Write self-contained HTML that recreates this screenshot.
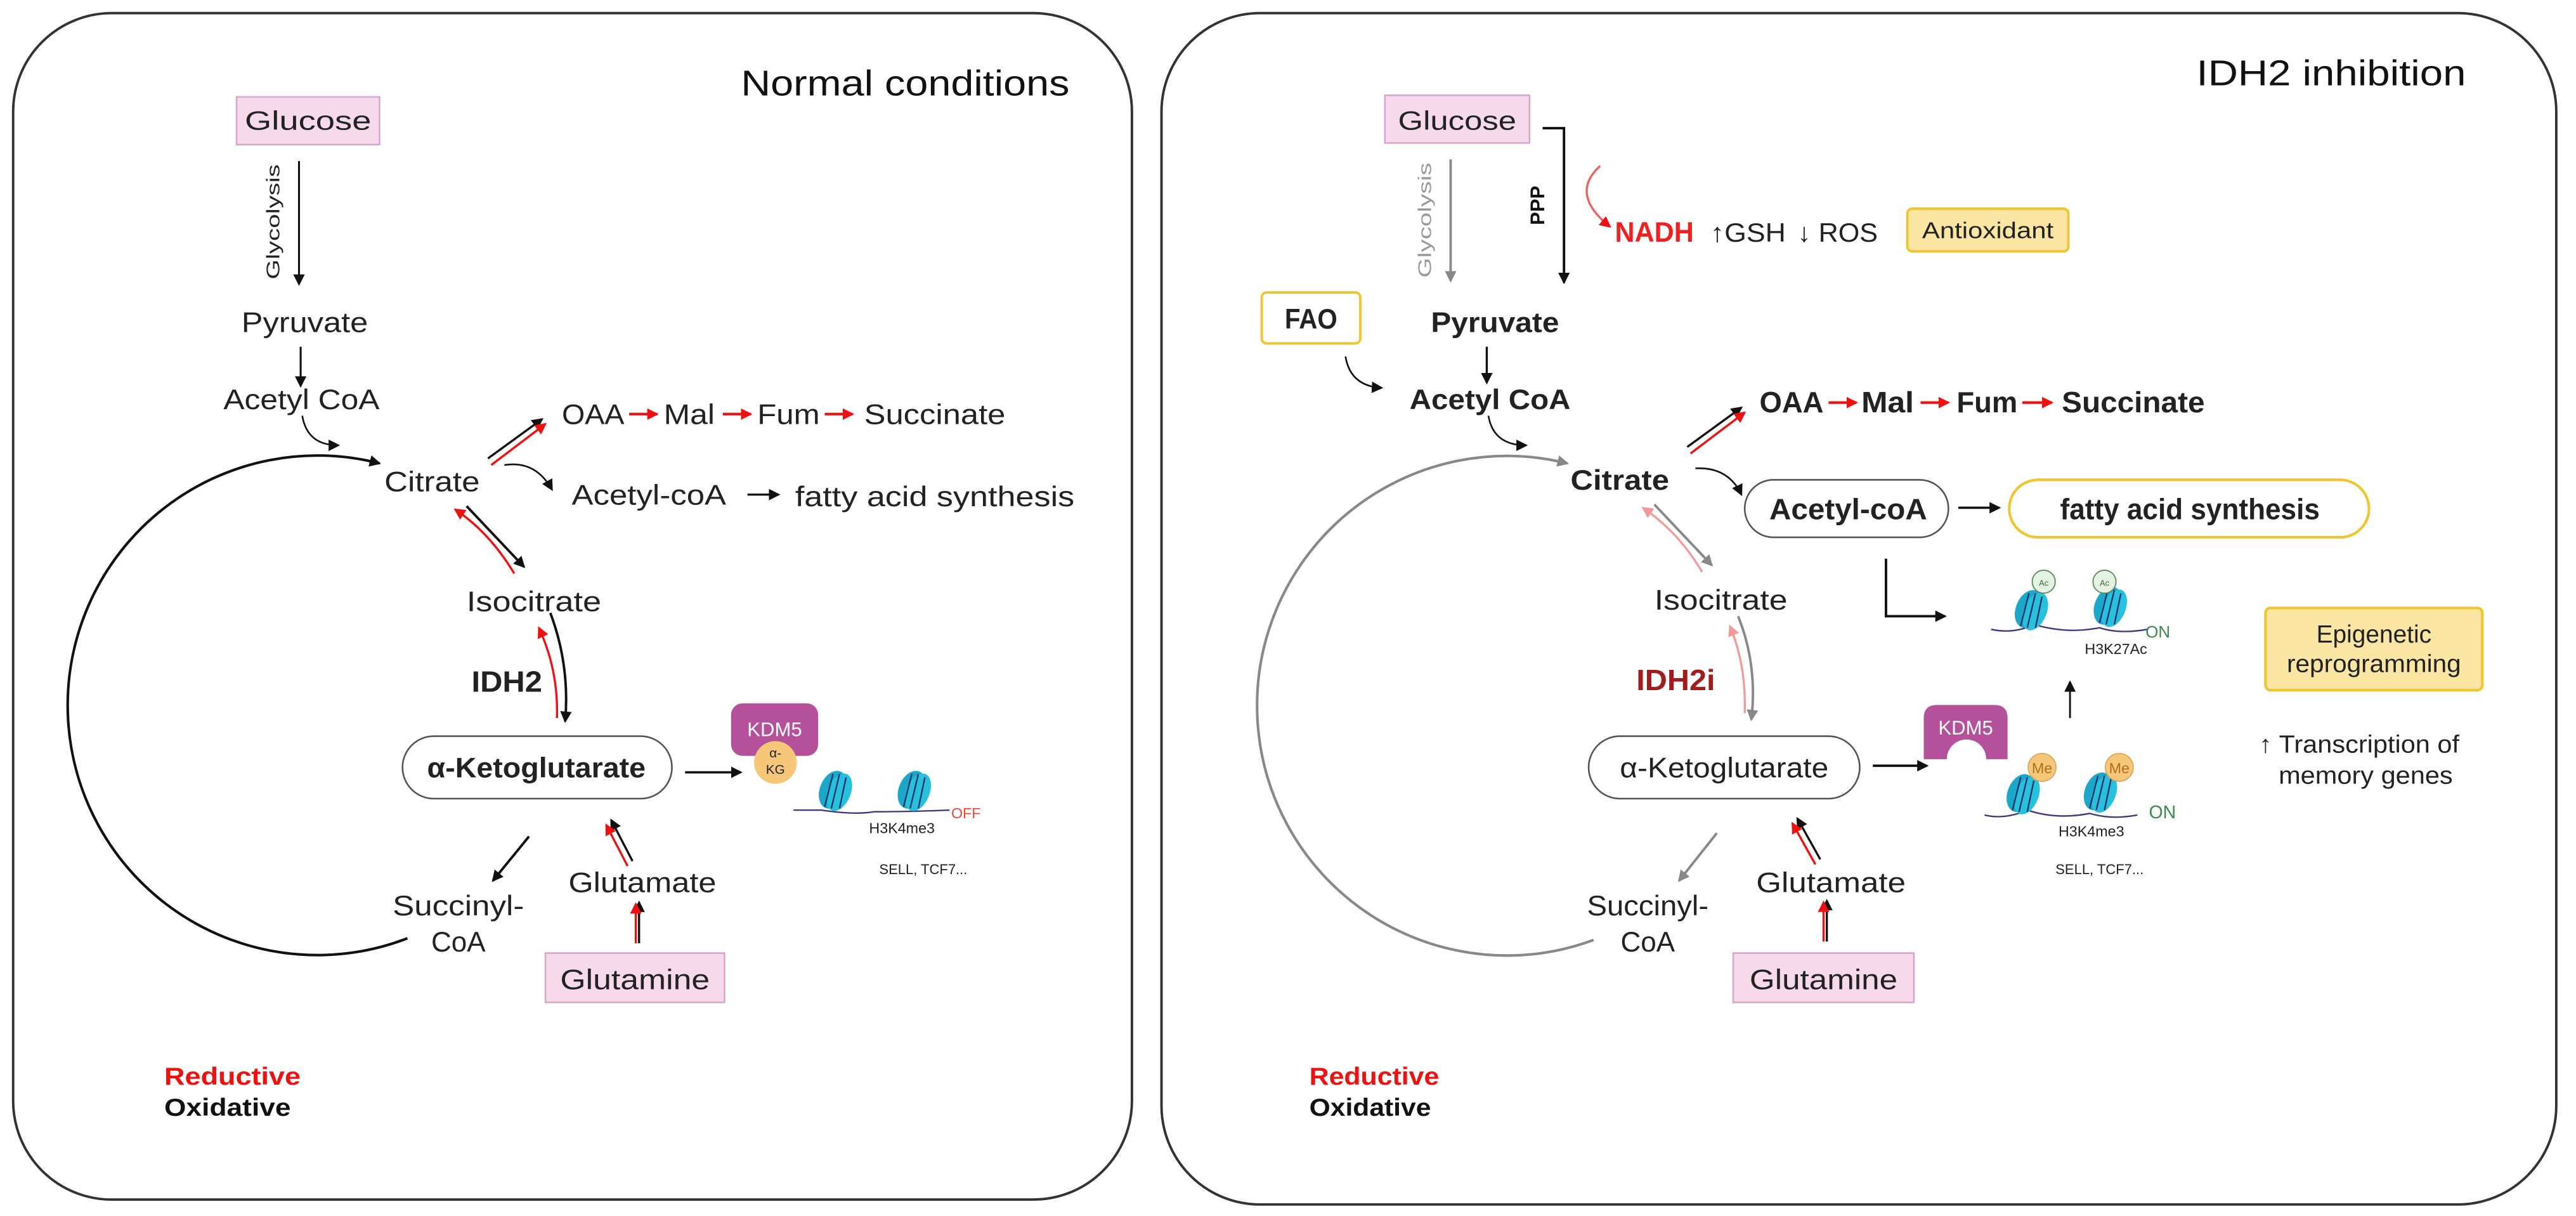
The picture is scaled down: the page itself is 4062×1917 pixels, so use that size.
<!DOCTYPE html>
<html><head><meta charset="utf-8"><style>
html,body{margin:0;padding:0;background:#fff;}
svg{display:block;}
text{font-family:"Liberation Sans",sans-serif;}
</style></head><body>
<svg width="4062" height="1917" viewBox="0 0 1568 740" xmlns="http://www.w3.org/2000/svg">
<defs>
<marker id="ak" markerWidth="7" markerHeight="7" refX="6" refY="3.5" orient="auto" markerUnits="userSpaceOnUse"><path d="M0,0 L7,3.5 L0,7 z" fill="#111"/></marker>
<marker id="ar" markerWidth="7" markerHeight="7" refX="6" refY="3.5" orient="auto" markerUnits="userSpaceOnUse"><path d="M0,0 L7,3.5 L0,7 z" fill="#f01010"/></marker>
<marker id="ap" markerWidth="7" markerHeight="7" refX="6" refY="3.5" orient="auto" markerUnits="userSpaceOnUse"><path d="M0,0 L7,3.5 L0,7 z" fill="#f39a9a"/></marker>
<marker id="ag" markerWidth="7" markerHeight="7" refX="6" refY="3.5" orient="auto" markerUnits="userSpaceOnUse"><path d="M0,0 L7,3.5 L0,7 z" fill="#888"/></marker>
<g id="nuc">
<ellipse cx="-1" cy="0" rx="8" ry="12" transform="rotate(22)" fill="#1aa7c9"/>
<ellipse cx="3" cy="0" rx="7" ry="12" transform="rotate(22)" fill="#27c0dd"/>
<path d="M-1,-10 L-6,10 M3,-10 L-2,11 M7,-8 L3,11" stroke="#16346a" stroke-width="0.9" fill="none"/>
</g>
</defs>

<rect x="8" y="8" width="681" height="722" rx="60" fill="#fff" stroke="#333" stroke-width="1.5"/>
<rect x="707" y="8" width="849" height="725" rx="60" fill="#fff" stroke="#333" stroke-width="1.5"/>

<!-- ============ LEFT PANEL ============ -->
<text x="451" y="58" font-size="22" textLength="200" lengthAdjust="spacingAndGlyphs" fill="#111">Normal conditions</text>
<rect x="144" y="59" width="87" height="29" fill="#f7d9ec" stroke="#d7a7cb"/>
<text x="149" y="79" font-size="16" textLength="77" lengthAdjust="spacingAndGlyphs" fill="#222">Glucose</text>
<line x1="182" y1="98" x2="182" y2="173" stroke="#111" stroke-width="1.2" marker-end="url(#ak)"/>
<text transform="translate(170,135) rotate(-90)" font-size="11" text-anchor="middle" textLength="70" lengthAdjust="spacingAndGlyphs" fill="#222">Glycolysis</text>
<text x="147" y="202" font-size="17" textLength="77" lengthAdjust="spacingAndGlyphs" fill="#222">Pyruvate</text>
<line x1="183" y1="211" x2="183" y2="235" stroke="#111" stroke-width="1.2" marker-end="url(#ak)"/>
<text x="136" y="249" font-size="17" textLength="95" lengthAdjust="spacingAndGlyphs" fill="#222">Acetyl CoA</text>
<path d="M184,253 Q187,271 206,271" stroke="#111" stroke-width="1" fill="none" marker-end="url(#ak)"/>
<text x="234" y="299" font-size="17" textLength="58" lengthAdjust="spacingAndGlyphs" fill="#222">Citrate</text>
<path d="M248,571 A152,152 0 1 1 231,282" stroke="#111" stroke-width="1.6" fill="none" marker-end="url(#ak)"/>
<line x1="297" y1="279" x2="330" y2="255" stroke="#111" stroke-width="1.3" marker-end="url(#ak)"/>
<line x1="299" y1="283" x2="332" y2="258" stroke="#f01010" stroke-width="1.3" marker-end="url(#ar)"/>
<text x="342" y="258" font-size="17" textLength="38" lengthAdjust="spacingAndGlyphs" fill="#222">OAA</text>
<line x1="383" y1="252" x2="400" y2="252" stroke="#f01010" stroke-width="1.6" marker-end="url(#ar)"/>
<text x="404" y="258" font-size="17" textLength="31" lengthAdjust="spacingAndGlyphs" fill="#222">Mal</text>
<line x1="440" y1="252" x2="457" y2="252" stroke="#f01010" stroke-width="1.6" marker-end="url(#ar)"/>
<text x="461" y="258" font-size="17" textLength="38" lengthAdjust="spacingAndGlyphs" fill="#222">Fum</text>
<line x1="502" y1="252" x2="519" y2="252" stroke="#f01010" stroke-width="1.6" marker-end="url(#ar)"/>
<text x="526" y="258" font-size="17" textLength="86" lengthAdjust="spacingAndGlyphs" fill="#222">Succinate</text>
<path d="M307,283 Q326,280 336,298" stroke="#111" stroke-width="1" fill="none" marker-end="url(#ak)"/>
<text x="348" y="307" font-size="17" textLength="94" lengthAdjust="spacingAndGlyphs" fill="#222">Acetyl-coA</text>
<line x1="455" y1="301" x2="474" y2="301" stroke="#111" stroke-width="1.3" marker-end="url(#ak)"/>
<text x="484" y="308" font-size="17" textLength="170" lengthAdjust="spacingAndGlyphs" fill="#222">fatty acid synthesis</text>
<line x1="284" y1="308" x2="319" y2="345" stroke="#111" stroke-width="1.5" marker-end="url(#ak)"/>
<path d="M313,349 Q298,324 277,310" stroke="#f01010" stroke-width="1.3" fill="none" marker-end="url(#ar)"/>
<text x="284" y="372" font-size="17" textLength="82" lengthAdjust="spacingAndGlyphs" fill="#222">Isocitrate</text>
<text x="287" y="421" font-size="18" font-weight="bold" textLength="43" lengthAdjust="spacingAndGlyphs" fill="#222">IDH2</text>
<path d="M335,373 Q347,405 344,439" stroke="#111" stroke-width="1.5" fill="none" marker-end="url(#ak)"/>
<path d="M339,437 Q340,408 328,382" stroke="#f01010" stroke-width="1.3" fill="none" marker-end="url(#ar)"/>
<rect x="245" y="448" width="164" height="38" rx="19" fill="#fff" stroke="#555"/>
<text x="260" y="473" font-size="17" font-weight="bold" textLength="133" lengthAdjust="spacingAndGlyphs" fill="#222">α-Ketoglutarate</text>
<line x1="417" y1="470" x2="451" y2="470" stroke="#111" stroke-width="1.4" marker-end="url(#ak)"/>
<rect x="445" y="428" width="53" height="32" rx="7" fill="#b5509a"/>
<text x="471.5" y="448" font-size="12" text-anchor="middle" fill="#fff">KDM5</text>
<circle cx="472" cy="464" r="13" fill="#f6c779"/>
<text x="472" y="461" font-size="8" text-anchor="middle" fill="#222">α-</text>
<text x="472" y="471" font-size="8" text-anchor="middle" fill="#222">KG</text>
<path d="M483,493 L500,493 Q520,496 532,494 Q552,494 578,493" stroke="#3b3680" stroke-width="0.9" fill="none"/>
<use href="#nuc" x="508" y="481"/>
<use href="#nuc" x="556" y="481"/>
<text x="579" y="498" font-size="9" fill="#e84a3a">OFF</text>
<text x="549" y="507" font-size="9" text-anchor="middle" fill="#222">H3K4me3</text>
<text x="562" y="532" font-size="8.5" text-anchor="middle" fill="#222">SELL, TCF7...</text>
<line x1="322" y1="509" x2="300" y2="536" stroke="#111" stroke-width="1.5" marker-end="url(#ak)"/>
<text x="279" y="557" font-size="17" text-anchor="middle" textLength="80" lengthAdjust="spacingAndGlyphs" fill="#222">Succinyl-</text>
<text x="279" y="579" font-size="17" text-anchor="middle" fill="#222">CoA</text>
<line x1="385" y1="524" x2="372" y2="499" stroke="#111" stroke-width="1.3" marker-end="url(#ak)"/>
<line x1="382" y1="527" x2="369" y2="502" stroke="#f01010" stroke-width="1.3" marker-end="url(#ar)"/>
<text x="346" y="543" font-size="17" textLength="90" lengthAdjust="spacingAndGlyphs" fill="#222">Glutamate</text>
<rect x="332" y="580" width="109" height="30" fill="#f7d9ec" stroke="#d7a7cb"/>
<text x="341" y="602" font-size="17" textLength="91" lengthAdjust="spacingAndGlyphs" fill="#222">Glutamine</text>
<line x1="389" y1="574" x2="389" y2="549" stroke="#111" stroke-width="1.3" marker-end="url(#ak)"/>
<line x1="387" y1="574" x2="387" y2="550" stroke="#f01010" stroke-width="1.3" marker-end="url(#ar)"/>
<text x="100" y="660" font-size="15" font-weight="bold" textLength="83" lengthAdjust="spacingAndGlyphs" fill="#f01010">Reductive</text>
<text x="100" y="679" font-size="15" font-weight="bold" textLength="77" lengthAdjust="spacingAndGlyphs" fill="#111">Oxidative</text>

<!-- ============ RIGHT PANEL ============ -->
<text x="1337" y="52" font-size="22" textLength="164" lengthAdjust="spacingAndGlyphs" fill="#111">IDH2 inhibition</text>
<rect x="843" y="58" width="88" height="29" fill="#f7d9ec" stroke="#d7a7cb"/>
<text x="851" y="79" font-size="16" textLength="72" lengthAdjust="spacingAndGlyphs" fill="#222">Glucose</text>
<line x1="883" y1="97" x2="883" y2="171" stroke="#888" stroke-width="1.5" marker-end="url(#ag)"/>
<text transform="translate(871,134) rotate(-90)" font-size="11" text-anchor="middle" textLength="70" lengthAdjust="spacingAndGlyphs" fill="#999">Glycolysis</text>
<path d="M939,78 L952,78 L952,172" stroke="#111" stroke-width="1.5" fill="none" marker-end="url(#ak)"/>
<text transform="translate(940,125) rotate(-90)" font-size="12" font-weight="bold" text-anchor="middle" fill="#111">PPP</text>
<path d="M974,101 Q955,118 980,138" stroke="#f26060" stroke-width="1.3" fill="none" marker-end="url(#ar)"/>
<text x="983" y="147" font-size="17" font-weight="bold" textLength="48" lengthAdjust="spacingAndGlyphs" fill="#f02020">NADH</text>
<text x="1041" y="147" font-size="16" textLength="46" lengthAdjust="spacingAndGlyphs" fill="#222">↑GSH</text>
<text x="1094" y="147" font-size="16" textLength="49" lengthAdjust="spacingAndGlyphs" fill="#222">↓ ROS</text>
<rect x="1161" y="127" width="98" height="26" rx="3" fill="#fae5a3" stroke="#f0c52e" stroke-width="1.5"/>
<text x="1170" y="145" font-size="14" textLength="80" lengthAdjust="spacingAndGlyphs" fill="#222">Antioxidant</text>
<rect x="768" y="178" width="60" height="31" rx="3" fill="#fff" stroke="#f0c52e" stroke-width="1.5"/>
<text x="782" y="200" font-size="17" font-weight="bold" textLength="32" lengthAdjust="spacingAndGlyphs" fill="#222">FAO</text>
<text x="871" y="202" font-size="17" font-weight="bold" textLength="78" lengthAdjust="spacingAndGlyphs" fill="#222">Pyruvate</text>
<line x1="905" y1="211" x2="905" y2="233" stroke="#111" stroke-width="1.3" marker-end="url(#ak)"/>
<path d="M819,217 Q822,235 841,236" stroke="#111" stroke-width="1" fill="none" marker-end="url(#ak)"/>
<text x="858" y="249" font-size="17" font-weight="bold" textLength="98" lengthAdjust="spacingAndGlyphs" fill="#222">Acetyl CoA</text>
<path d="M906,253 Q909,271 929,271" stroke="#111" stroke-width="1" fill="none" marker-end="url(#ak)"/>
<text x="956" y="298" font-size="17" font-weight="bold" textLength="60" lengthAdjust="spacingAndGlyphs" fill="#222">Citrate</text>
<path d="M970,572 A152,152 0 1 1 954,282" stroke="#888" stroke-width="1.6" fill="none" marker-end="url(#ag)"/>
<line x1="1027" y1="272" x2="1060" y2="248" stroke="#111" stroke-width="1.3" marker-end="url(#ak)"/>
<line x1="1029" y1="276" x2="1062" y2="251" stroke="#f01010" stroke-width="1.3" marker-end="url(#ar)"/>
<text x="1071" y="251" font-size="18" font-weight="bold" textLength="39" lengthAdjust="spacingAndGlyphs" fill="#222">OAA</text>
<line x1="1113" y1="245" x2="1130" y2="245" stroke="#f01010" stroke-width="1.6" marker-end="url(#ar)"/>
<text x="1133" y="251" font-size="18" font-weight="bold" textLength="32" lengthAdjust="spacingAndGlyphs" fill="#222">Mal</text>
<line x1="1169" y1="245" x2="1186" y2="245" stroke="#f01010" stroke-width="1.6" marker-end="url(#ar)"/>
<text x="1191" y="251" font-size="18" font-weight="bold" textLength="37" lengthAdjust="spacingAndGlyphs" fill="#222">Fum</text>
<line x1="1231" y1="245" x2="1249" y2="245" stroke="#f01010" stroke-width="1.6" marker-end="url(#ar)"/>
<text x="1255" y="251" font-size="18" font-weight="bold" textLength="87" lengthAdjust="spacingAndGlyphs" fill="#222">Succinate</text>
<path d="M1032,285 Q1052,284 1060,301" stroke="#111" stroke-width="1" fill="none" marker-end="url(#ak)"/>
<rect x="1062" y="292" width="124" height="35" rx="17.5" fill="#fff" stroke="#555"/>
<text x="1077" y="316" font-size="18" font-weight="bold" textLength="96" lengthAdjust="spacingAndGlyphs" fill="#222">Acetyl-coA</text>
<line x1="1192" y1="309" x2="1217" y2="309" stroke="#111" stroke-width="1.4" marker-end="url(#ak)"/>
<rect x="1223" y="292" width="219" height="35" rx="17.5" fill="#fff" stroke="#f0c52e" stroke-width="1.6"/>
<text x="1254" y="316" font-size="18" font-weight="bold" textLength="158" lengthAdjust="spacingAndGlyphs" fill="#222">fatty acid synthesis</text>
<path d="M1148,340 L1148,375 L1184,375" stroke="#111" stroke-width="1.5" fill="none" marker-end="url(#ak)"/>
<path d="M1212,383 Q1226,386 1238,380 Q1258,386 1278,382 Q1290,386 1307,383" stroke="#3b3680" stroke-width="0.9" fill="none"/>
<use href="#nuc" x="1236" y="371"/>
<use href="#nuc" x="1284" y="369"/>
<circle cx="1244" cy="354" r="7" fill="#e3f2e3" stroke="#5a8a5a" stroke-width="0.7"/>
<text x="1244" y="356.5" font-size="5" text-anchor="middle" fill="#3a6a3a">Ac</text>
<circle cx="1281" cy="354" r="7" fill="#e3f2e3" stroke="#5a8a5a" stroke-width="0.7"/>
<text x="1281" y="356.5" font-size="5" text-anchor="middle" fill="#3a6a3a">Ac</text>
<text x="1306" y="388" font-size="10" fill="#3a8a4a">ON</text>
<text x="1288" y="398" font-size="9" text-anchor="middle" fill="#222">H3K27Ac</text>
<rect x="1379" y="370" width="132" height="50" rx="3" fill="#fae5a3" stroke="#f0c52e" stroke-width="1.6"/>
<text x="1445" y="391" font-size="15" text-anchor="middle" fill="#222">Epigenetic</text>
<text x="1445" y="409" font-size="15" text-anchor="middle" textLength="106" lengthAdjust="spacingAndGlyphs" fill="#222">reprogramming</text>
<line x1="1260" y1="437" x2="1260" y2="415" stroke="#111" stroke-width="1.1" marker-end="url(#ak)"/>
<text x="1375" y="458" font-size="15" textLength="122" lengthAdjust="spacingAndGlyphs" fill="#222">↑ Transcription of</text>
<text x="1387" y="477" font-size="15" textLength="106" lengthAdjust="spacingAndGlyphs" fill="#222">memory genes</text>
<text x="1007" y="371" font-size="17" textLength="81" lengthAdjust="spacingAndGlyphs" fill="#222">Isocitrate</text>
<line x1="1007" y1="307" x2="1042" y2="344" stroke="#888" stroke-width="1.5" marker-end="url(#ag)"/>
<path d="M1036,348 Q1022,324 1000,309" stroke="#f39a9a" stroke-width="1.3" fill="none" marker-end="url(#ap)"/>
<text x="996" y="420" font-size="18" font-weight="bold" textLength="48" lengthAdjust="spacingAndGlyphs" fill="#a31c1c">IDH2i</text>
<path d="M1058,375 Q1070,405 1066,438" stroke="#888" stroke-width="1.5" fill="none" marker-end="url(#ag)"/>
<path d="M1062,434 Q1063,405 1053,381" stroke="#f39a9a" stroke-width="1.3" fill="none" marker-end="url(#ap)"/>
<rect x="967" y="448" width="165" height="38" rx="19" fill="#fff" stroke="#555"/>
<text x="986" y="473" font-size="17" textLength="127" lengthAdjust="spacingAndGlyphs" fill="#222">α-Ketoglutarate</text>
<line x1="1140" y1="466" x2="1173" y2="466" stroke="#111" stroke-width="1.5" marker-end="url(#ak)"/>
<path d="M1179,429 L1214,429 Q1222,429 1222,437 L1222,462 L1209,462 A12,12 0 0 0 1185,462 L1171,462 L1171,437 Q1171,429 1179,429 z" fill="#b5509a"/>
<text x="1196.5" y="447" font-size="12" text-anchor="middle" fill="#fff">KDM5</text>
<path d="M1208,496 Q1220,499 1234,493 Q1252,499 1272,495 Q1285,499 1301,496" stroke="#3b3680" stroke-width="0.9" fill="none"/>
<use href="#nuc" x="1231" y="483"/>
<use href="#nuc" x="1278" y="482"/>
<circle cx="1243" cy="467" r="8.5" fill="#f6c779" stroke="#e0a050" stroke-width="0.6"/>
<text x="1243" y="470.5" font-size="9" text-anchor="middle" fill="#b07020">Me</text>
<circle cx="1290" cy="467" r="8.5" fill="#f6c779" stroke="#e0a050" stroke-width="0.6"/>
<text x="1290" y="470.5" font-size="9" text-anchor="middle" fill="#b07020">Me</text>
<text x="1308" y="498" font-size="11" fill="#3a8a4a">ON</text>
<text x="1273" y="509" font-size="9" text-anchor="middle" fill="#222">H3K4me3</text>
<text x="1278" y="532" font-size="8.5" text-anchor="middle" fill="#222">SELL, TCF7...</text>
<line x1="1045" y1="507" x2="1022" y2="536" stroke="#888" stroke-width="1.5" marker-end="url(#ag)"/>
<text x="1003" y="557" font-size="17" text-anchor="middle" textLength="74" lengthAdjust="spacingAndGlyphs" fill="#222">Succinyl-</text>
<text x="1003" y="579" font-size="17" text-anchor="middle" fill="#222">CoA</text>
<line x1="1108" y1="523" x2="1094" y2="498" stroke="#111" stroke-width="1.3" marker-end="url(#ak)"/>
<line x1="1105" y1="526" x2="1091" y2="501" stroke="#f01010" stroke-width="1.3" marker-end="url(#ar)"/>
<text x="1069" y="543" font-size="17" textLength="91" lengthAdjust="spacingAndGlyphs" fill="#222">Glutamate</text>
<rect x="1055" y="580" width="110" height="30" fill="#f7d9ec" stroke="#d7a7cb"/>
<text x="1065" y="602" font-size="17" textLength="90" lengthAdjust="spacingAndGlyphs" fill="#222">Glutamine</text>
<line x1="1112" y1="573" x2="1112" y2="548" stroke="#111" stroke-width="1.3" marker-end="url(#ak)"/>
<line x1="1110" y1="573" x2="1110" y2="549" stroke="#f01010" stroke-width="1.3" marker-end="url(#ar)"/>
<text x="797" y="660" font-size="15" font-weight="bold" textLength="79" lengthAdjust="spacingAndGlyphs" fill="#f01010">Reductive</text>
<text x="797" y="679" font-size="15" font-weight="bold" textLength="74" lengthAdjust="spacingAndGlyphs" fill="#111">Oxidative</text>
</svg>
</body></html>
